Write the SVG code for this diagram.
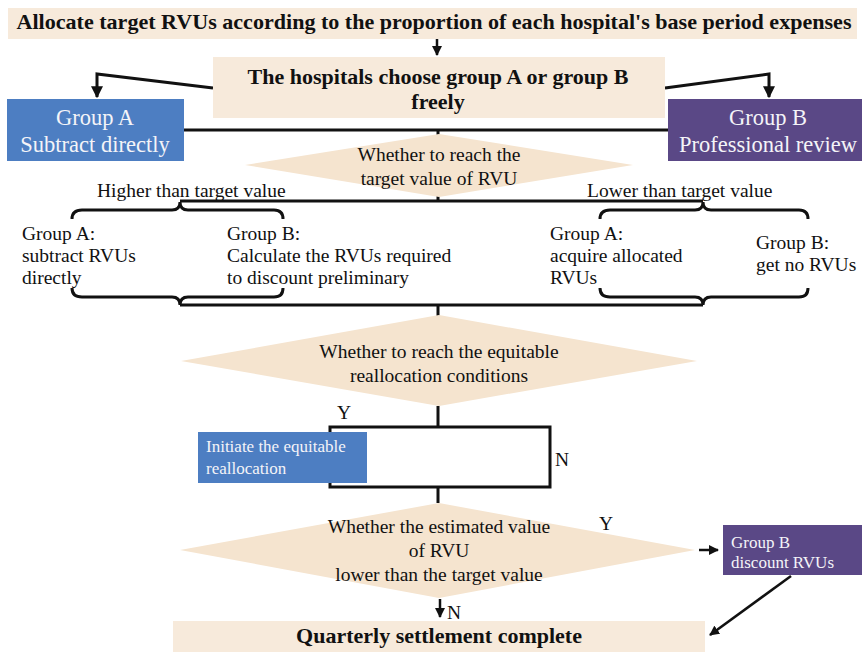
<svg xmlns="http://www.w3.org/2000/svg" width="865" height="655" viewBox="0 0 865 655">
  <defs>
    <marker id="arrow" viewBox="0 0 10 10" refX="9" refY="5" markerWidth="4" markerHeight="4" orient="auto" markerUnits="strokeWidth">
      <path d="M0,0 L10,5 L0,10 z" fill="#111"/>
    </marker>
    <style>
      .beige { fill: #f7eadb; }
      .dia { fill: #f5e4cf; }
      .blue { fill: #4d7ec2; }
      .purple { fill: #5a4886; }
      .line { fill: none; stroke: #111; stroke-width: 3; }
      .thin { fill: none; stroke: #111; stroke-width: 2.5; }
      .t { font-family: "Liberation Serif", "Times New Roman", serif; fill: #111; font-size: 19.5px; }
      .b { font-weight: bold; font-size: 22px; }
      .w { fill: #f4f4f8; }
      .big { font-size: 22.5px; }
      .small { font-size: 17px; }
      .c { text-anchor: middle; }
    </style>
  </defs>

  <rect width="865" height="655" fill="#ffffff"/>

  <!-- connectors -->
  <g id="connectors">
    <line class="thin" x1="437" y1="39" x2="437" y2="55" marker-end="url(#arrow)"/>
    <polyline class="line" points="213,88 97,74 97,97" marker-end="url(#arrow)"/>
    <polyline class="line" points="665,88 769,74 769,97" marker-end="url(#arrow)"/>
    <line class="line" x1="184" y1="130" x2="668" y2="130"/>
    <line class="line" x1="438" y1="130" x2="438" y2="140"/>
    <line class="line" x1="438" y1="196" x2="438" y2="202"/>
    <line class="line" x1="180" y1="201" x2="703" y2="201"/>
    <!-- braces, higher than target -->
    <path class="line" d="M72,219 Q72,210 82,210 L172,210 Q180,210 180,202 Q180,210 188,210 L274,210 Q283,210 283,219"/>
    <path class="line" d="M72,288 Q72,297 82,297 L172,297 Q180,297 180,305 Q180,297 188,297 L274,297 Q283,297 283,288"/>
    <!-- braces, lower than target -->
    <path class="line" d="M600,219 Q600,210 610,210 L695,210 Q703,210 703,202 Q703,210 711,210 L799,210 Q808,210 808,219"/>
    <path class="line" d="M600,288 Q600,297 610,297 L695,297 Q703,297 703,305 Q703,297 711,297 L799,297 Q808,297 808,288"/>
    <line class="line" x1="180" y1="305" x2="703" y2="305"/>
    <line class="line" x1="438" y1="305" x2="438" y2="316"/>
    <line class="line" x1="438" y1="406" x2="438" y2="427"/>
    <rect class="line" x="330" y="427" width="220" height="60"/>
    <line class="line" x1="438" y1="487" x2="438" y2="503"/>
    <line class="thin" x1="699" y1="550" x2="718" y2="550" marker-end="url(#arrow)"/>
    <line class="thin" x1="440" y1="599" x2="440" y2="617" marker-end="url(#arrow)"/>
    <line class="thin" x1="791" y1="576" x2="710" y2="635" marker-end="url(#arrow)"/>
  </g>

  <g id="allocate">
    <rect class="beige" x="8" y="8" width="849" height="31"/>
    <text class="t b c" x="434" y="29" style="font-size:21px" textLength="835" lengthAdjust="spacingAndGlyphs">Allocate target RVUs according to the proportion of each hospital's base period expenses</text>
  </g>

  <g id="choose">
    <rect class="beige" x="213" y="57" width="452" height="61"/>
    <text class="t b c" x="438" y="84">The hospitals choose group A or group B</text>
    <text class="t b c" x="438" y="109">freely</text>
  </g>

  <g id="group-a">
    <rect class="blue" x="7" y="99" width="177" height="62"/>
    <text class="t w big c" x="95" y="125">Group A</text>
    <text class="t w big c" x="95" y="152">Subtract directly</text>
  </g>

  <g id="group-b">
    <rect class="purple" x="668" y="99" width="194" height="62"/>
    <text class="t w big c" x="768" y="125">Group B</text>
    <text class="t w big c" x="768" y="152">Professional review</text>
  </g>

  <g id="reach-target">
    <polygon class="dia" points="439,134 633,165 439,197 245,165"/>
    <text class="t c" x="439" y="161">Whether to reach the</text>
    <text class="t c" x="439" y="185">target value of RVU</text>
  </g>

  <g id="higher">
    <text class="t" x="97" y="197">Higher than target value</text>
    <text class="t" x="22" y="240">Group A:</text>
    <text class="t" x="22" y="262">subtract RVUs</text>
    <text class="t" x="22" y="284">directly</text>
    <text class="t" x="227" y="240">Group B:</text>
    <text class="t" x="227" y="262">Calculate the RVUs required</text>
    <text class="t" x="227" y="284">to discount preliminary</text>
  </g>

  <g id="lower">
    <text class="t" x="587" y="197">Lower than target value</text>
    <text class="t" x="550" y="240">Group A:</text>
    <text class="t" x="550" y="262">acquire allocated</text>
    <text class="t" x="550" y="284">RVUs</text>
    <text class="t" x="756" y="249">Group B:</text>
    <text class="t" x="756" y="271">get no RVUs</text>
  </g>

  <g id="equitable-check">
    <polygon class="dia" points="439,315 697,361 439,406 181,361"/>
    <text class="t c" x="439" y="358">Whether to reach the equitable</text>
    <text class="t c" x="439" y="382">reallocation conditions</text>
    <text class="t" x="337" y="419">Y</text>
    <text class="t" x="555" y="466">N</text>
  </g>

  <g id="initiate">
    <rect class="blue" x="198" y="432" width="169" height="51"/>
    <text class="t w small" x="206" y="452">Initiate the equitable</text>
    <text class="t w small" x="206" y="474">reallocation</text>
  </g>

  <g id="estimate-check">
    <polygon class="dia" points="439,503 695,550 439,598 180,550"/>
    <text class="t c" x="439" y="533">Whether the estimated value</text>
    <text class="t c" x="439" y="557">of RVU</text>
    <text class="t c" x="439" y="581">lower than the target value</text>
    <text class="t" x="599" y="530">Y</text>
    <text class="t" x="447" y="619">N</text>
  </g>

  <g id="discount">
    <rect class="purple" x="723" y="525" width="139" height="50"/>
    <text class="t w small" x="731" y="548">Group B</text>
    <text class="t w small" x="731" y="568">discount RVUs</text>
  </g>

  <g id="settlement">
    <rect class="beige" x="173" y="621" width="532" height="31"/>
    <text class="t b c" x="439" y="643">Quarterly settlement complete</text>
  </g>
</svg>
